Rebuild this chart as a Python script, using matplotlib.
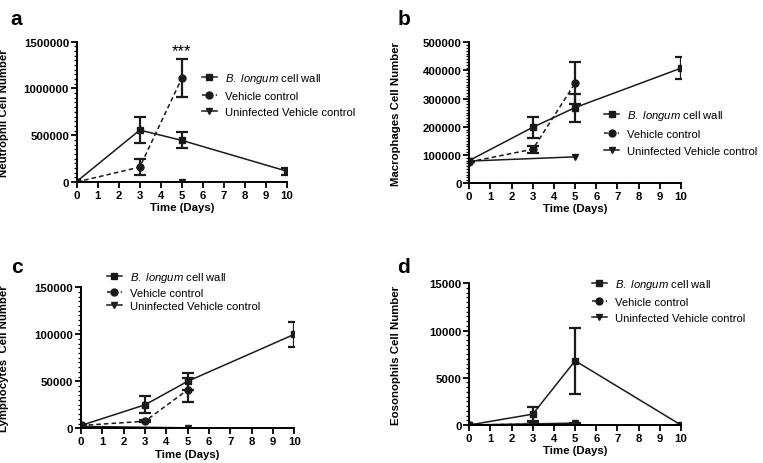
import numpy as np
import matplotlib
matplotlib.use('Agg')
import matplotlib.pyplot as plt
from matplotlib.ticker import MultipleLocator
from matplotlib.lines import Line2D

plt.rcParams['font.family'] = ['Liberation Sans', 'DejaVu Sans']
plt.rcParams['mathtext.fontset'] = 'custom'
plt.rcParams['mathtext.it'] = 'Liberation Sans:italic'
plt.rcParams['mathtext.rm'] = 'Liberation Sans'

# data
days_bl = [0, 3, 5, 10]
days_vc = [0, 3, 5]
days_un = [0, 5]

neu_bl = [5000, 555000, 445000, 115000]
neu_bl_err = [0, 135000, 85000, 35000]
neu_vc = [0, 160000, 1110000]
neu_vc_err = [0, 90000, 200000]
neu_un = [0, 3000]

mac_bl = [80000, 198000, 268000, 408000]
mac_bl_err = [0, 37000, 50000, 38000]
mac_vc = [75000, 120000, 355000]
mac_vc_err = [0, 12000, 75000]
mac_un = [78000, 93000]

lym_bl = [3000, 25000, 50000, 100000]
lym_bl_err = [0, 9000, 9000, 13000]
lym_vc = [3000, 7500, 41000]
lym_vc_err = [0, 800, 12500]
lym_un = [2000, 500]

eos_bl = [0, 1150, 6800, 0]
eos_bl_err = [0, 800, 3500, 0]
eos_vc = [0, 100, 100]
eos_vc_err = [0, 300, 100]
eos_un = [0, 200]

panels = [
    ('a', 'Neutrophil Cell Number', 1500000, 500000, neu_bl, neu_bl_err, neu_vc, neu_vc_err, neu_un,
     [0.1005, 0.6056, 0.2757, 0.3024], (0.2647, 0.845), 0.52),
    ('b', 'Macrophages Cell Number', 500000, 100000, mac_bl, mac_bl_err, mac_vc, mac_vc_err, mac_un,
     [0.615, 0.6034, 0.2775, 0.3033], (0.792, 0.765), 0.6),
    ('c', 'Lymphocytes  Cell Number', 150000, 50000, lym_bl, lym_bl_err, lym_vc, lym_vc_err, lym_un,
     [0.1062, 0.0748, 0.2796, 0.3039], (0.1402, 0.416), 0.32),
    ('d', 'Eosonophils Cell Number', 15000, 5000, eos_bl, eos_bl_err, eos_vc, eos_vc_err, eos_un,
     [0.615, 0.0819, 0.2775, 0.3054], (0.7759, 0.401), 0.52),
]
label_pos = {'a': (0.014, 0.978), 'b': (0.521, 0.978), 'c': (0.014, 0.443), 'd': (0.521, 0.443)}
ylabel_x = {'a': 0.012, 'b': 0.525, 'c': 0.012, 'd': 0.525}

fig = plt.figure(figsize=(7.63, 4.64), dpi=100)
lw = 1.1
fs = 8.2
ms = 5
for letter, ylab, ymax, ymaj, bl, bl_e, vc, vc_e, un, rect, legpos, lspace in panels:
    ax = fig.add_axes(rect)
    ax.errorbar(days_bl, bl, yerr=bl_e, color='#1a1a1a', lw=lw, marker='s', ms=ms,
                elinewidth=1.6, capsize=4, capthick=1.6)
    ax.errorbar(days_vc, vc, yerr=vc_e, color='#1a1a1a', lw=lw, ls=(0, (3, 2)), marker='o', ms=ms,
                elinewidth=1.6, capsize=4, capthick=1.6)
    ax.plot(days_un, un, color='#1a1a1a', lw=lw, marker='v', ms=ms)
    ax.set_xlim(0, 10)
    ax.set_ylim(0, ymax)
    ax.set_xticks(range(11))
    ax.yaxis.set_major_locator(MultipleLocator(ymaj))
    ax.yaxis.set_minor_locator(MultipleLocator(ymaj / 10))
    ax.ticklabel_format(axis='y', style='plain', useOffset=False)
    ax.spines['top'].set_visible(False)
    ax.spines['right'].set_visible(False)
    for s in ('left', 'bottom'):
        ax.spines[s].set_linewidth(1.4)
    ax.tick_params(which='major', length=4, width=1.3, labelsize=fs, pad=1.5)
    ax.tick_params(which='minor', length=2, width=0.9)
    for t in ax.get_xticklabels() + ax.get_yticklabels():
        t.set_fontweight('bold')
    ax.set_xlabel('Time (Days)', fontsize=fs, fontweight='bold', labelpad=2)
    ax.set_ylabel(ylab, fontsize=fs, fontweight='bold')
    ax.yaxis.set_label_coords((ylabel_x[letter] - rect[0]) / rect[2], 0.5)
    fig.text(*label_pos[letter], letter, fontsize=15, fontweight='bold', va='top')

    handles = [
        Line2D([], [], color='#1a1a1a', lw=lw, marker='s', ms=ms),
        Line2D([], [], color='#1a1a1a', lw=lw, ls=(0, (2.5, 2)), marker='o', ms=ms),
        Line2D([], [], color='#1a1a1a', lw=lw, marker='v', ms=ms),
    ]
    labels = [r'$\it{B.\ longum}$ cell wall', 'Vehicle control', 'Uninfected Vehicle control']
    ax.legend(handles, labels, loc='upper left', bbox_to_anchor=legpos,
              bbox_transform=fig.transFigure, frameon=False, borderpad=0, borderaxespad=0,
              fontsize=8.15, handlelength=1.3, handletextpad=0.7, labelspacing=lspace)
    if letter == 'a':
        ax.text(5, 1400000, '***', ha='center', va='center', fontsize=12)

fig.savefig('out.png', dpi=100)
